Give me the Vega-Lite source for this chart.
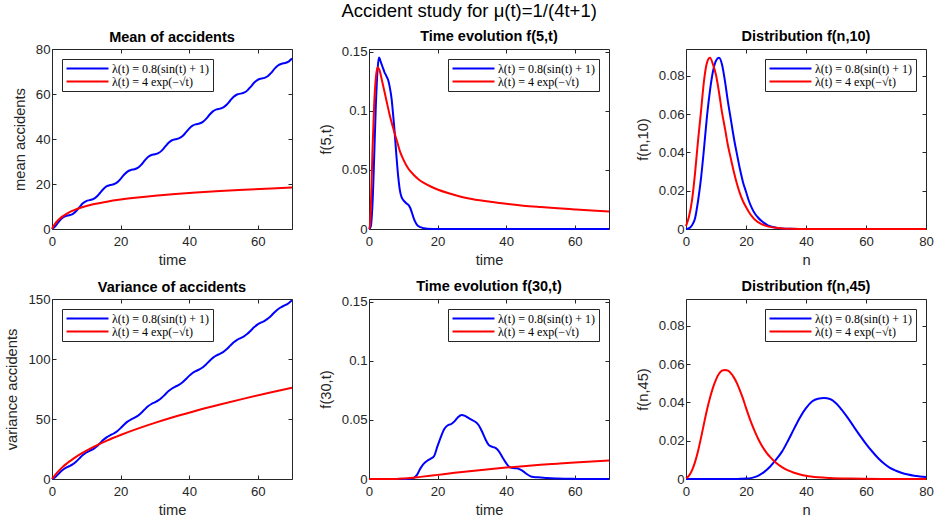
{
"$schema": "https://vega.github.io/schema/vega-lite/v6.json",
"padding": {"left": 4, "top": 1, "right": 0, "bottom": 0},
"title": {"text": "Accident study for μ(t)=1/(4t+1)", "fontSize": 18.5, "fontWeight": "normal", "anchor": "middle", "color": "black", "offset": 8.5, "frame": "bounds"},
"datasets": {
"mean": [
{"s":"b","t":0,"v":0},{"s":"b","t":0.5,"v":0.55},{"s":"b","t":1,"v":1.34},{"s":"b","t":1.5,"v":2.27},{"s":"b","t":2,"v":3.23},{"s":"b","t":3,"v":4.86},{"s":"b","t":4,"v":5.75},{"s":"b","t":5,"v":6.11},{"s":"b","t":6,"v":6.65},{"s":"b","t":7,"v":7.88},{"s":"b","t":8,"v":9.69},{"s":"b","t":9,"v":11.40},{"s":"b","t":10,"v":12.43},{"s":"b","t":11,"v":12.84},{"s":"b","t":12,"v":13.25},{"s":"b","t":13,"v":14.29},{"s":"b","t":14,"v":15.99},{"s":"b","t":15,"v":17.78},{"s":"b","t":16,"v":19.02},{"s":"b","t":17,"v":19.56},{"s":"b","t":18,"v":19.89},{"s":"b","t":19,"v":20.71},{"s":"b","t":20,"v":22.25},{"s":"b","t":21,"v":24.09},{"s":"b","t":22,"v":25.53},{"s":"b","t":23,"v":26.24},{"s":"b","t":24,"v":26.55},{"s":"b","t":25,"v":27.17},{"s":"b","t":26,"v":28.52},{"s":"b","t":27,"v":30.35},{"s":"b","t":28,"v":31.97},{"s":"b","t":29,"v":32.87},{"s":"b","t":30,"v":33.22},{"s":"b","t":31,"v":33.69},{"s":"b","t":32,"v":34.83},{"s":"b","t":33,"v":36.58},{"s":"b","t":34,"v":38.33},{"s":"b","t":35,"v":39.44},{"s":"b","t":36,"v":39.90},{"s":"b","t":37,"v":40.26},{"s":"b","t":38,"v":41.18},{"s":"b","t":39,"v":42.81},{"s":"b","t":40,"v":44.63},{"s":"b","t":41,"v":45.96},{"s":"b","t":42,"v":46.56},{"s":"b","t":43,"v":46.87},{"s":"b","t":44,"v":47.59},{"s":"b","t":45,"v":49.04},{"s":"b","t":46,"v":50.88},{"s":"b","t":47,"v":52.40},{"s":"b","t":48,"v":53.19},{"s":"b","t":49,"v":53.51},{"s":"b","t":50,"v":54.05},{"s":"b","t":51,"v":55.30},{"s":"b","t":52,"v":57.10},{"s":"b","t":53,"v":58.78},{"s":"b","t":54,"v":59.78},{"s":"b","t":55,"v":60.17},{"s":"b","t":56,"v":60.58},{"s":"b","t":57,"v":61.61},{"s":"b","t":58,"v":63.31},{"s":"b","t":59,"v":65.09},{"s":"b","t":60,"v":66.31},{"s":"b","t":61,"v":66.83},{"s":"b","t":62,"v":67.15},{"s":"b","t":63,"v":67.98},{"s":"b","t":64,"v":69.52},{"s":"b","t":65,"v":71.36},{"s":"b","t":66,"v":72.78},{"s":"b","t":67,"v":73.47},{"s":"b","t":68,"v":73.77},{"s":"b","t":69,"v":74.40},{"s":"b","t":70,"v":75.76},
{"s":"r","t":0,"v":0},{"s":"r","t":0.25,"v":0.79},{"s":"r","t":0.5,"v":1.44},{"s":"r","t":1,"v":2.54},{"s":"r","t":1.5,"v":3.45},{"s":"r","t":2.25,"v":4.57},{"s":"r","t":3,"v":5.50},{"s":"r","t":4,"v":6.52},{"s":"r","t":5,"v":7.37},{"s":"r","t":6.25,"v":8.25},{"s":"r","t":9,"v":9.75},{"s":"r","t":12,"v":10.96},{"s":"r","t":16,"v":12.15},{"s":"r","t":20,"v":13.08},{"s":"r","t":25,"v":14.0},{"s":"r","t":30,"v":14.76},{"s":"r","t":36,"v":15.53},{"s":"r","t":42,"v":16.18},{"s":"r","t":49,"v":16.84},{"s":"r","t":56,"v":17.43},{"s":"r","t":64,"v":18.04},{"s":"r","t":70,"v":18.46}
],
"variance": [
{"s":"b","t":0,"v":0},{"s":"b","t":0.5,"v":0.68},{"s":"b","t":1,"v":1.76},{"s":"b","t":1.5,"v":3.08},{"s":"b","t":2,"v":4.52},{"s":"b","t":3,"v":7.21},{"s":"b","t":4,"v":9.21},{"s":"b","t":5,"v":10.62},{"s":"b","t":6,"v":12.15},{"s":"b","t":7,"v":14.36},{"s":"b","t":8,"v":17.17},{"s":"b","t":9,"v":19.95},{"s":"b","t":10,"v":22.07},{"s":"b","t":11,"v":23.52},{"s":"b","t":12,"v":24.97},{"s":"b","t":13,"v":27.06},{"s":"b","t":14,"v":29.81},{"s":"b","t":15,"v":32.65},{"s":"b","t":16,"v":34.94},{"s":"b","t":17,"v":36.53},{"s":"b","t":18,"v":37.92},{"s":"b","t":19,"v":39.79},{"s":"b","t":20,"v":42.38},{"s":"b","t":21,"v":45.28},{"s":"b","t":22,"v":47.77},{"s":"b","t":23,"v":49.54},{"s":"b","t":24,"v":50.91},{"s":"b","t":25,"v":52.58},{"s":"b","t":26,"v":54.99},{"s":"b","t":27,"v":57.88},{"s":"b","t":28,"v":60.56},{"s":"b","t":29,"v":62.51},{"s":"b","t":30,"v":63.92},{"s":"b","t":31,"v":65.45},{"s":"b","t":32,"v":67.65},{"s":"b","t":33,"v":70.46},{"s":"b","t":34,"v":73.27},{"s":"b","t":35,"v":75.44},{"s":"b","t":36,"v":76.96},{"s":"b","t":37,"v":78.38},{"s":"b","t":38,"v":80.36},{"s":"b","t":39,"v":83.05},{"s":"b","t":40,"v":85.93},{"s":"b","t":41,"v":88.32},{"s":"b","t":42,"v":89.98},{"s":"b","t":43,"v":91.35},{"s":"b","t":44,"v":93.14},{"s":"b","t":45,"v":95.65},{"s":"b","t":46,"v":98.55},{"s":"b","t":47,"v":101.13},{"s":"b","t":48,"v":102.98},{"s":"b","t":49,"v":104.36},{"s":"b","t":50,"v":105.97},{"s":"b","t":51,"v":108.28},{"s":"b","t":52,"v":111.14},{"s":"b","t":53,"v":113.88},{"s":"b","t":54,"v":115.95},{"s":"b","t":55,"v":117.40},{"s":"b","t":56,"v":118.87},{"s":"b","t":57,"v":120.96},{"s":"b","t":58,"v":123.73},{"s":"b","t":59,"v":126.57},{"s":"b","t":60,"v":128.85},{"s":"b","t":61,"v":130.43},{"s":"b","t":62,"v":131.82},{"s":"b","t":63,"v":133.71},{"s":"b","t":64,"v":136.31},{"s":"b","t":65,"v":139.22},{"s":"b","t":66,"v":141.70},{"s":"b","t":67,"v":143.45},{"s":"b","t":68,"v":144.82},{"s":"b","t":69,"v":146.51},{"s":"b","t":70,"v":148.93},
{"s":"r","t":0,"v":0},{"s":"r","t":0.25,"v":0.92},{"s":"r","t":0.5,"v":1.84},{"s":"r","t":1,"v":3.65},{"s":"r","t":1.5,"v":5.33},{"s":"r","t":2.25,"v":7.61},{"s":"r","t":3,"v":9.68},{"s":"r","t":4,"v":12.18},{"s":"r","t":5,"v":14.46},{"s":"r","t":6.25,"v":17.03},{"s":"r","t":9,"v":22.0},{"s":"r","t":12,"v":26.6},{"s":"r","t":16,"v":32.0},{"s":"r","t":20,"v":36.7},{"s":"r","t":25,"v":42.0},{"s":"r","t":30,"v":46.8},{"s":"r","t":36,"v":52.1},{"s":"r","t":42,"v":56.9},{"s":"r","t":49,"v":62.1},{"s":"r","t":56,"v":67.0},{"s":"r","t":64,"v":72.3},{"s":"r","t":70,"v":76.0}
],
"f5": [
{"s":"b","t":0,"v":0},{"s":"b","t":0.5,"v":0.002},{"s":"b","t":1,"v":0.02},{"s":"b","t":1.5,"v":0.06},{"s":"b","t":2,"v":0.105},{"s":"b","t":2.5,"v":0.135},{"s":"b","t":2.9,"v":0.1452},{"s":"b","t":3.5,"v":0.141},{"s":"b","t":4,"v":0.137},{"s":"b","t":4.5,"v":0.133},{"s":"b","t":5,"v":0.130},{"s":"b","t":5.6,"v":0.126},{"s":"b","t":6,"v":0.121},{"s":"b","t":6.6,"v":0.110},{"s":"b","t":7,"v":0.098},{"s":"b","t":7.4,"v":0.085},{"s":"b","t":8,"v":0.062},{"s":"b","t":8.5,"v":0.045},{"s":"b","t":9,"v":0.033},{"s":"b","t":9.5,"v":0.027},{"s":"b","t":10,"v":0.0245},{"s":"b","t":11,"v":0.0215},{"s":"b","t":11.5,"v":0.0205},{"s":"b","t":12,"v":0.018},{"s":"b","t":12.5,"v":0.014},{"s":"b","t":13,"v":0.0095},{"s":"b","t":13.5,"v":0.006},{"s":"b","t":14,"v":0.0035},{"s":"b","t":15,"v":0.0015},{"s":"b","t":16,"v":0.0006},{"s":"b","t":17,"v":0.0002},{"s":"b","t":20,"v":0},{"s":"b","t":30,"v":0},{"s":"b","t":50,"v":0},{"s":"b","t":70,"v":0},
{"s":"r","t":0,"v":0},{"s":"r","t":0.25,"v":0.002},{"s":"r","t":0.5,"v":0.015},{"s":"r","t":1,"v":0.065},{"s":"r","t":1.5,"v":0.105},{"s":"r","t":2,"v":0.128},{"s":"r","t":2.5,"v":0.137},{"s":"r","t":3,"v":0.135},{"s":"r","t":4,"v":0.123},{"s":"r","t":5,"v":0.110},{"s":"r","t":6,"v":0.097},{"s":"r","t":7,"v":0.086},{"s":"r","t":8,"v":0.076},{"s":"r","t":9,"v":0.066},{"s":"r","t":10,"v":0.059},{"s":"r","t":11.5,"v":0.051},{"s":"r","t":13,"v":0.046},{"s":"r","t":14.5,"v":0.042},{"s":"r","t":16,"v":0.039},{"s":"r","t":18,"v":0.036},{"s":"r","t":20,"v":0.0335},{"s":"r","t":23,"v":0.0305},{"s":"r","t":26,"v":0.028},{"s":"r","t":30,"v":0.0255},{"s":"r","t":36,"v":0.0228},{"s":"r","t":40,"v":0.0213},{"s":"r","t":45,"v":0.0198},{"s":"r","t":50,"v":0.0186},{"s":"r","t":55,"v":0.0175},{"s":"r","t":60,"v":0.0166},{"s":"r","t":65,"v":0.0157},{"s":"r","t":70,"v":0.0149}
],
"f30": [
{"s":"b","t":0,"v":0},{"s":"b","t":10,"v":0},{"s":"b","t":12,"v":0.0002},{"s":"b","t":13,"v":0.0008},{"s":"b","t":14,"v":0.0035},{"s":"b","t":15,"v":0.009},{"s":"b","t":16,"v":0.013},{"s":"b","t":17,"v":0.0155},{"s":"b","t":18,"v":0.0172},{"s":"b","t":19,"v":0.0195},{"s":"b","t":20,"v":0.028},{"s":"b","t":21,"v":0.036},{"s":"b","t":22,"v":0.0425},{"s":"b","t":23,"v":0.0455},{"s":"b","t":24,"v":0.0466},{"s":"b","t":25,"v":0.049},{"s":"b","t":26,"v":0.0525},{"s":"b","t":27,"v":0.0543},{"s":"b","t":28,"v":0.0535},{"s":"b","t":29,"v":0.0517},{"s":"b","t":30,"v":0.050},{"s":"b","t":31,"v":0.0485},{"s":"b","t":32,"v":0.0455},{"s":"b","t":33,"v":0.040},{"s":"b","t":34,"v":0.0335},{"s":"b","t":35,"v":0.0285},{"s":"b","t":36,"v":0.0272},{"s":"b","t":37,"v":0.0262},{"s":"b","t":38,"v":0.023},{"s":"b","t":39,"v":0.018},{"s":"b","t":40,"v":0.0135},{"s":"b","t":41,"v":0.010},{"s":"b","t":42,"v":0.0093},{"s":"b","t":43,"v":0.0091},{"s":"b","t":44,"v":0.0082},{"s":"b","t":45,"v":0.0065},{"s":"b","t":46,"v":0.0042},{"s":"b","t":47,"v":0.0025},{"s":"b","t":48,"v":0.0017},{"s":"b","t":50,"v":0.0013},{"s":"b","t":52,"v":0.0008},{"s":"b","t":55,"v":0.0004},{"s":"b","t":60,"v":0.0001},{"s":"b","t":65,"v":0},{"s":"b","t":70,"v":0},
{"s":"r","t":0,"v":0},{"s":"r","t":5,"v":0},{"s":"r","t":8,"v":0.0001},{"s":"r","t":10,"v":0.0004},{"s":"r","t":12,"v":0.0008},{"s":"r","t":15,"v":0.0018},{"s":"r","t":20,"v":0.0035},{"s":"r","t":25,"v":0.0052},{"s":"r","t":30,"v":0.0068},{"s":"r","t":35,"v":0.0083},{"s":"r","t":40,"v":0.0097},{"s":"r","t":45,"v":0.0109},{"s":"r","t":50,"v":0.012},{"s":"r","t":55,"v":0.013},{"s":"r","t":60,"v":0.014},{"s":"r","t":65,"v":0.0149},{"s":"r","t":70,"v":0.0157}
],
"fn10": [
{"s":"b","t":0,"v":0},{"s":"b","t":1,"v":0.0004},{"s":"b","t":2,"v":0.002},{"s":"b","t":3,"v":0.0055},{"s":"b","t":4,"v":0.0145},{"s":"b","t":5,"v":0.0265},{"s":"b","t":6,"v":0.042},{"s":"b","t":7,"v":0.059},{"s":"b","t":8,"v":0.0725},{"s":"b","t":9,"v":0.0825},{"s":"b","t":10,"v":0.088},{"s":"b","t":11,"v":0.0895},{"s":"b","t":12,"v":0.086},{"s":"b","t":13,"v":0.0772},{"s":"b","t":14,"v":0.0663},{"s":"b","t":15,"v":0.0568},{"s":"b","t":16,"v":0.0472},{"s":"b","t":17,"v":0.039},{"s":"b","t":18,"v":0.0312},{"s":"b","t":19,"v":0.0245},{"s":"b","t":20,"v":0.0195},{"s":"b","t":21,"v":0.0145},{"s":"b","t":22,"v":0.0108},{"s":"b","t":23,"v":0.008},{"s":"b","t":24,"v":0.006},{"s":"b","t":25,"v":0.0044},{"s":"b","t":26,"v":0.0032},{"s":"b","t":27,"v":0.0022},{"s":"b","t":28,"v":0.0015},{"s":"b","t":29,"v":0.001},{"s":"b","t":30,"v":0.0007},{"s":"b","t":32,"v":0.0003},{"s":"b","t":35,"v":0.0001},{"s":"b","t":40,"v":0},{"s":"b","t":60,"v":0},{"s":"b","t":80,"v":0},
{"s":"r","t":0,"v":0.0015},{"s":"r","t":1,"v":0.0065},{"s":"r","t":2,"v":0.015},{"s":"r","t":3,"v":0.029},{"s":"r","t":4,"v":0.046},{"s":"r","t":5,"v":0.0615},{"s":"r","t":6,"v":0.0775},{"s":"r","t":7,"v":0.087},{"s":"r","t":8,"v":0.0895},{"s":"r","t":9,"v":0.086},{"s":"r","t":10,"v":0.0805},{"s":"r","t":11,"v":0.0715},{"s":"r","t":12,"v":0.061},{"s":"r","t":13,"v":0.0525},{"s":"r","t":14,"v":0.0435},{"s":"r","t":15,"v":0.0365},{"s":"r","t":16,"v":0.0295},{"s":"r","t":17,"v":0.0235},{"s":"r","t":18,"v":0.0185},{"s":"r","t":19,"v":0.0145},{"s":"r","t":20,"v":0.0115},{"s":"r","t":21,"v":0.0088},{"s":"r","t":22,"v":0.0066},{"s":"r","t":23,"v":0.0048},{"s":"r","t":24,"v":0.0036},{"s":"r","t":25,"v":0.0027},{"s":"r","t":26,"v":0.002},{"s":"r","t":27,"v":0.0015},{"s":"r","t":28,"v":0.0011},{"s":"r","t":30,"v":0.0006},{"s":"r","t":32,"v":0.0003},{"s":"r","t":35,"v":0.0001},{"s":"r","t":40,"v":0},{"s":"r","t":60,"v":0},{"s":"r","t":80,"v":0}
],
"fn45": [
{"s":"b","t":0,"v":0},{"s":"b","t":10,"v":0},{"s":"b","t":16,"v":0},{"s":"b","t":18,"v":0.0001},{"s":"b","t":20,"v":0.0002},{"s":"b","t":22,"v":0.0006},{"s":"b","t":24,"v":0.0016},{"s":"b","t":26,"v":0.0036},{"s":"b","t":28,"v":0.0064},{"s":"b","t":30,"v":0.0101},{"s":"b","t":32,"v":0.0143},{"s":"b","t":34,"v":0.02},{"s":"b","t":36,"v":0.0262},{"s":"b","t":38,"v":0.0322},{"s":"b","t":40,"v":0.037},{"s":"b","t":42,"v":0.0405},{"s":"b","t":44,"v":0.042},{"s":"b","t":46,"v":0.0423},{"s":"b","t":48,"v":0.0418},{"s":"b","t":50,"v":0.0396},{"s":"b","t":52,"v":0.036},{"s":"b","t":54,"v":0.0318},{"s":"b","t":56,"v":0.0272},{"s":"b","t":58,"v":0.0227},{"s":"b","t":60,"v":0.0184},{"s":"b","t":62,"v":0.0145},{"s":"b","t":64,"v":0.011},{"s":"b","t":66,"v":0.0081},{"s":"b","t":68,"v":0.0058},{"s":"b","t":70,"v":0.0043},{"s":"b","t":72,"v":0.0031},{"s":"b","t":74,"v":0.0023},{"s":"b","t":76,"v":0.0017},{"s":"b","t":78,"v":0.0013},{"s":"b","t":80,"v":0.001},
{"s":"r","t":0,"v":0.0004},{"s":"r","t":1,"v":0.0018},{"s":"r","t":2,"v":0.0045},{"s":"r","t":3,"v":0.0088},{"s":"r","t":4,"v":0.0145},{"s":"r","t":5,"v":0.0215},{"s":"r","t":6,"v":0.029},{"s":"r","t":7,"v":0.0362},{"s":"r","t":8,"v":0.0425},{"s":"r","t":9,"v":0.0478},{"s":"r","t":10,"v":0.052},{"s":"r","t":11,"v":0.055},{"s":"r","t":12,"v":0.0566},{"s":"r","t":13,"v":0.057},{"s":"r","t":14,"v":0.0566},{"s":"r","t":15,"v":0.0552},{"s":"r","t":16,"v":0.053},{"s":"r","t":17,"v":0.05},{"s":"r","t":18,"v":0.0462},{"s":"r","t":19,"v":0.042},{"s":"r","t":20,"v":0.0372},{"s":"r","t":21,"v":0.0326},{"s":"r","t":22,"v":0.0284},{"s":"r","t":23,"v":0.0246},{"s":"r","t":24,"v":0.0212},{"s":"r","t":25,"v":0.0182},{"s":"r","t":26,"v":0.0156},{"s":"r","t":27,"v":0.0134},{"s":"r","t":28,"v":0.0116},{"s":"r","t":30,"v":0.0085},{"s":"r","t":32,"v":0.0062},{"s":"r","t":34,"v":0.0045},{"s":"r","t":36,"v":0.0033},{"s":"r","t":38,"v":0.0024},{"s":"r","t":40,"v":0.0017},{"s":"r","t":44,"v":0.0009},{"s":"r","t":48,"v":0.0005},{"s":"r","t":55,"v":0.0002},{"s":"r","t":65,"v":0.00005},{"s":"r","t":80,"v":0}
]
},
"columns": 3,
"spacing": {"row": 70, "column": 77},
"bounds": "flush",
"resolve": {"scale": {"x": "independent", "y": "independent", "color": "independent"}, "legend": {"color": "independent"}},
"concat": [
{"width": 240, "height": 180, "title": {"text": "Mean of accidents"}, "data": {"name": "mean"},
 "layer": [
  {"mark": {"type": "line", "strokeWidth": 2, "interpolate": "monotone"},
   "encoding": {
    "x": {"field": "t", "type": "quantitative", "scale": {"domain": [0, 70], "nice": false}, "axis": {"title": "time", "values": [0, 20, 40, 60]}},
    "y": {"field": "v", "type": "quantitative", "scale": {"domain": [0, 80], "nice": false}, "axis": {"title": "mean accidents", "values": [0, 20, 40, 60, 80]}},
    "color": {"field": "s", "type": "nominal", "scale": {"domain": ["b", "r"], "range": ["#0000ff", "#ff0000"]}, "legend": {"title": null, "orient": "top-left", "labelExpr": "datum.value === 'b' ? 'λ(t) = 0.8(sin(t) + 1)' : 'λ(t) = 4 exp(−√t)'"}}
   }},
  {"mark": {"type": "line", "strokeOpacity": 0},
   "encoding": {
    "x": {"field": "t", "type": "quantitative", "axis": {"orient": "top", "labels": false, "title": null, "values": [0, 20, 40, 60]}},
    "y": {"field": "v", "type": "quantitative", "axis": {"orient": "right", "labels": false, "title": null, "values": [0, 20, 40, 60, 80]}},
    "detail": {"field": "s"}
   }}
 ],
 "resolve": {"axis": {"x": "independent", "y": "independent"}}
},
{"width": 240, "height": 180, "title": {"text": "Time evolution f(5,t)", "dy": -3.3}, "data": {"name": "f5"},
 "layer": [
  {"mark": {"type": "line", "strokeWidth": 2, "interpolate": "monotone"},
   "encoding": {
    "x": {"field": "t", "type": "quantitative", "scale": {"domain": [0, 70], "nice": false}, "axis": {"title": "time", "values": [0, 20, 40, 60]}},
    "y": {"field": "v", "type": "quantitative", "scale": {"domain": [0, 0.1525], "nice": false}, "axis": {"title": "f(5,t)", "values": [0, 0.05, 0.1, 0.15], "format": "~g"}},
    "color": {"field": "s", "type": "nominal", "scale": {"domain": ["b", "r"], "range": ["#0000ff", "#ff0000"]}, "legend": {"title": null, "orient": "top-right", "labelExpr": "datum.value === 'b' ? 'λ(t) = 0.8(sin(t) + 1)' : 'λ(t) = 4 exp(−√t)'"}}
   }},
  {"mark": {"type": "line", "strokeOpacity": 0},
   "encoding": {
    "x": {"field": "t", "type": "quantitative", "axis": {"orient": "top", "labels": false, "title": null, "values": [0, 20, 40, 60]}},
    "y": {"field": "v", "type": "quantitative", "axis": {"orient": "right", "labels": false, "title": null, "values": [0, 0.05, 0.1, 0.15]}},
    "detail": {"field": "s"}
   }}
 ],
 "resolve": {"axis": {"x": "independent", "y": "independent"}}
},
{"width": 240, "height": 180, "title": {"text": "Distribution f(n,10)", "dy": -6.6}, "data": {"name": "fn10"},
 "layer": [
  {"mark": {"type": "line", "strokeWidth": 2, "interpolate": "monotone"},
   "encoding": {
    "x": {"field": "t", "type": "quantitative", "scale": {"domain": [0, 80], "nice": false}, "axis": {"title": "n", "values": [0, 20, 40, 60, 80]}},
    "y": {"field": "v", "type": "quantitative", "scale": {"domain": [0, 0.0941], "nice": false}, "axis": {"title": "f(n,10)", "values": [0, 0.02, 0.04, 0.06, 0.08], "format": "~g"}},
    "color": {"field": "s", "type": "nominal", "scale": {"domain": ["b", "r"], "range": ["#0000ff", "#ff0000"]}, "legend": {"title": null, "orient": "top-right", "labelExpr": "datum.value === 'b' ? 'λ(t) = 0.8(sin(t) + 1)' : 'λ(t) = 4 exp(−√t)'"}}
   }},
  {"mark": {"type": "line", "strokeOpacity": 0},
   "encoding": {
    "x": {"field": "t", "type": "quantitative", "axis": {"orient": "top", "labels": false, "title": null, "values": [0, 20, 40, 60, 80]}},
    "y": {"field": "v", "type": "quantitative", "axis": {"orient": "right", "labels": false, "title": null, "values": [0, 0.02, 0.04, 0.06, 0.08]}},
    "detail": {"field": "s"}
   }}
 ],
 "resolve": {"axis": {"x": "independent", "y": "independent"}}
},
{"width": 240, "height": 180, "title": {"text": "Variance of accidents"}, "data": {"name": "variance"},
 "layer": [
  {"mark": {"type": "line", "strokeWidth": 2, "interpolate": "monotone"},
   "encoding": {
    "x": {"field": "t", "type": "quantitative", "scale": {"domain": [0, 70], "nice": false}, "axis": {"title": "time", "values": [0, 20, 40, 60]}},
    "y": {"field": "v", "type": "quantitative", "scale": {"domain": [0, 150], "nice": false}, "axis": {"title": "variance accidents", "values": [0, 50, 100, 150]}},
    "color": {"field": "s", "type": "nominal", "scale": {"domain": ["b", "r"], "range": ["#0000ff", "#ff0000"]}, "legend": {"title": null, "orient": "top-left", "labelExpr": "datum.value === 'b' ? 'λ(t) = 0.8(sin(t) + 1)' : 'λ(t) = 4 exp(−√t)'"}}
   }},
  {"mark": {"type": "line", "strokeOpacity": 0},
   "encoding": {
    "x": {"field": "t", "type": "quantitative", "axis": {"orient": "top", "labels": false, "title": null, "values": [0, 20, 40, 60]}},
    "y": {"field": "v", "type": "quantitative", "axis": {"orient": "right", "labels": false, "title": null, "values": [0, 50, 100, 150]}},
    "detail": {"field": "s"}
   }}
 ],
 "resolve": {"axis": {"x": "independent", "y": "independent"}}
},
{"width": 240, "height": 180, "title": {"text": "Time evolution f(30,t)", "dy": -3.3}, "data": {"name": "f30"},
 "layer": [
  {"mark": {"type": "line", "strokeWidth": 2, "interpolate": "monotone"},
   "encoding": {
    "x": {"field": "t", "type": "quantitative", "scale": {"domain": [0, 70], "nice": false}, "axis": {"title": "time", "values": [0, 20, 40, 60]}},
    "y": {"field": "v", "type": "quantitative", "scale": {"domain": [0, 0.1525], "nice": false}, "axis": {"title": "f(30,t)", "values": [0, 0.05, 0.1, 0.15], "format": "~g"}},
    "color": {"field": "s", "type": "nominal", "scale": {"domain": ["b", "r"], "range": ["#0000ff", "#ff0000"]}, "legend": {"title": null, "orient": "top-right", "labelExpr": "datum.value === 'b' ? 'λ(t) = 0.8(sin(t) + 1)' : 'λ(t) = 4 exp(−√t)'"}}
   }},
  {"mark": {"type": "line", "strokeOpacity": 0},
   "encoding": {
    "x": {"field": "t", "type": "quantitative", "axis": {"orient": "top", "labels": false, "title": null, "values": [0, 20, 40, 60]}},
    "y": {"field": "v", "type": "quantitative", "axis": {"orient": "right", "labels": false, "title": null, "values": [0, 0.05, 0.1, 0.15]}},
    "detail": {"field": "s"}
   }}
 ],
 "resolve": {"axis": {"x": "independent", "y": "independent"}}
},
{"width": 240, "height": 180, "title": {"text": "Distribution f(n,45)", "dy": -6.6}, "data": {"name": "fn45"},
 "layer": [
  {"mark": {"type": "line", "strokeWidth": 2, "interpolate": "monotone"},
   "encoding": {
    "x": {"field": "t", "type": "quantitative", "scale": {"domain": [0, 80], "nice": false}, "axis": {"title": "n", "values": [0, 20, 40, 60, 80]}},
    "y": {"field": "v", "type": "quantitative", "scale": {"domain": [0, 0.0941], "nice": false}, "axis": {"title": "f(n,45)", "values": [0, 0.02, 0.04, 0.06, 0.08], "format": "~g"}},
    "color": {"field": "s", "type": "nominal", "scale": {"domain": ["b", "r"], "range": ["#0000ff", "#ff0000"]}, "legend": {"title": null, "orient": "top-right", "labelExpr": "datum.value === 'b' ? 'λ(t) = 0.8(sin(t) + 1)' : 'λ(t) = 4 exp(−√t)'"}}
   }},
  {"mark": {"type": "line", "strokeOpacity": 0},
   "encoding": {
    "x": {"field": "t", "type": "quantitative", "axis": {"orient": "top", "labels": false, "title": null, "values": [0, 20, 40, 60, 80]}},
    "y": {"field": "v", "type": "quantitative", "axis": {"orient": "right", "labels": false, "title": null, "values": [0, 0.02, 0.04, 0.06, 0.08]}},
    "detail": {"field": "s"}
   }}
 ],
 "resolve": {"axis": {"x": "independent", "y": "independent"}}
}
],
"config": {
 "font": "Liberation Sans",
 "view": {"stroke": "#262626", "strokeWidth": 1},
 "axis": {"domain": false, "grid": false, "tickSize": -4, "tickColor": "#262626", "labelColor": "#262626", "labelFontSize": 13.2, "labelFont": "Liberation Sans", "labelFlush": false, "titleFont": "Liberation Sans", "titleFontSize": 14.7, "titleFontWeight": "normal", "titleColor": "#262626"},
 "axisX": {"labelPadding": 10, "titlePadding": 5},
 "axisY": {"labelPadding": 6, "titlePadding": 8},
 "legend": {"offset": 10, "strokeColor": "#262626", "fillColor": "white", "padding": 3, "labelFont": "Liberation Serif", "labelFontSize": 12, "labelColor": "black", "symbolType": "M-4,0H4", "symbolSize": 110, "symbolStrokeWidth": 2, "symbolOffset": 16, "labelOffset": 18, "rowPadding": 0},
 "title": {"fontSize": 14.5, "fontWeight": "bold", "color": "black", "font": "Liberation Sans", "offset": -3, "frame": "group"}
}
}
